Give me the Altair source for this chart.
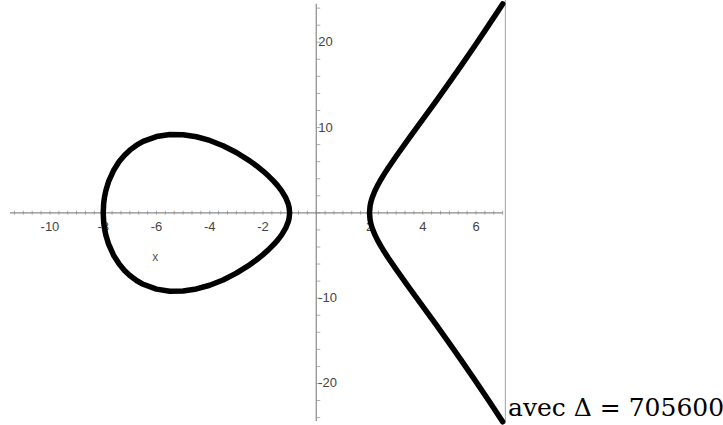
import altair as alt
import numpy as np
import pandas as pd

# Upper half of the bounded oval (y >= 0), read along x
oval_x = [-8, -7.98, -7.95, -7.9, -7.8, -7.6, -7.4, -7.2, -7, -6.75, -6.5, -6, -5.5, -5,
          -4.5, -4, -3.5, -3, -2.5, -2.25, -2, -1.8, -1.6, -1.45, -1.3, -1.15, -1.05, -1.02, -1]
oval_y = [0, 1.18, 1.859, 2.614, 3.651, 5.034, 6.008, 6.755, 7.348, 7.93, 8.374, 8.944, 9.186, 9.165,
          8.923, 8.485, 7.866, 7.071, 6.093, 5.527, 4.899, 4.341, 3.718, 3.189, 2.575, 1.799, 1.03, 0.649, 0]

# Upper half of the unbounded branch
right_x = [2, 2.02, 2.05, 2.1, 2.2, 2.3, 2.4, 2.55, 2.7, 3, 3.5, 4, 4.5, 5, 5.5, 6, 6.5, 7]
right_y = [0, 0.778, 1.238, 1.769, 2.555, 3.193, 3.761, 4.539, 5.264, 6.633, 8.811, 10.954,
           13.11, 15.297, 17.525, 19.799, 22.122, 24.495]

x_tick_values = [-10, -8, -6, -4, -2, 2, 4, 6]
x_tick_text = ["-10", "-8", "-6", "-4", "-2", "2", "4", "6"]
y_tick_values = [-20, -10, 10, 20]
y_tick_text = ["-20", "-10", "10", "20"]

caption = "avec Δ = 705600"

X_DOM = [-11.5, 7.05]
Y_DOM = [-24.4, 24.6]


def branch(xs, ys, name, closed):
    """Trace a symmetric branch: upper half forward, lower half back."""
    rows = []
    if closed:
        pts = list(zip(xs, ys)) + [(x, -y) for x, y in reversed(list(zip(xs, ys)))][1:]
    else:
        pts = [(x, -y) for x, y in reversed(list(zip(xs, ys)))] + list(zip(xs, ys))[1:]
    for i, (x, y) in enumerate(pts):
        rows.append({"x": x, "y": y, "branch": name, "k": i})
    return rows


curve = pd.DataFrame(branch(oval_x, oval_y, "oval", True) + branch(right_x, right_y, "right", False))

xs = alt.Scale(domain=X_DOM, nice=False, zero=False)
ys = alt.Scale(domain=Y_DOM, nice=False, zero=False)

axis_grey = "#8a8a8a"
label_grey = "#444444"

# Axis lines crossing at the origin
x_axis = alt.Chart(pd.DataFrame({"x": [-11.5], "x2": [7.0], "y": [0]})).mark_rule(
    color=axis_grey, strokeWidth=1.2
).encode(x=alt.X("x:Q", scale=xs, axis=None), x2="x2", y=alt.Y("y:Q", scale=ys, axis=None))

y_axis = alt.Chart(pd.DataFrame({"x": [0], "y": [-24.4], "y2": [24.5]})).mark_rule(
    color=axis_grey, strokeWidth=1.2
).encode(x=alt.X("x:Q", scale=xs, axis=None), y=alt.Y("y:Q", scale=ys, axis=None), y2="y2")

# Minor ticks: every 1/3 on x, every 2 on y
x_minor = pd.DataFrame({"x": np.arange(-34, 22) / 3.0, "y": 0.0})
y_minor = pd.DataFrame({"x": 0.0, "y": np.arange(-12, 13) * 2.0})

x_ticks = alt.Chart(x_minor).mark_tick(orient="vertical", size=4, thickness=1, color=axis_grey).encode(
    x=alt.X("x:Q", scale=xs, axis=None), y=alt.Y("y:Q", scale=ys, axis=None)
)
y_ticks = alt.Chart(y_minor).mark_tick(orient="horizontal", size=4, thickness=1, color=axis_grey, xOffset=2).encode(
    x=alt.X("x:Q", scale=xs, axis=None), y=alt.Y("y:Q", scale=ys, axis=None)
)

x_labels = alt.Chart(pd.DataFrame({"x": x_tick_values, "y": 0.0, "t": x_tick_text})).mark_text(
    font="Liberation Sans", fontSize=13, color=label_grey, baseline="top", dy=8
).encode(x=alt.X("x:Q", scale=xs, axis=None), y=alt.Y("y:Q", scale=ys, axis=None), text="t:N")

y_labels = alt.Chart(pd.DataFrame({"x": 0.0, "y": y_tick_values, "t": y_tick_text})).mark_text(
    font="Liberation Sans", fontSize=13, color=label_grey, align="left", baseline="middle", dx=2
).encode(x=alt.X("x:Q", scale=xs, axis=None), y=alt.Y("y:Q", scale=ys, axis=None), text="t:N")

x_name = alt.Chart(pd.DataFrame({"x": [-6.05], "y": [-5.2], "t": ["x"]})).mark_text(
    font="Liberation Sans", fontSize=12, color="#555555"
).encode(x=alt.X("x:Q", scale=xs, axis=None), y=alt.Y("y:Q", scale=ys, axis=None), text="t:N")

# Thin frame line on the right edge of the plot
frame = alt.Chart(pd.DataFrame({"x": [7.1]})).mark_rule(color="#a0a0a0", strokeWidth=1).encode(
    x=alt.X("x:Q", scale=xs, axis=None), y=alt.value(-3), y2=alt.value(419)
)

lines = alt.Chart(curve).mark_line(
    color="black", strokeWidth=5.5, strokeCap="round", strokeJoin="round"
).encode(
    x=alt.X("x:Q", scale=xs, axis=None),
    y=alt.Y("y:Q", scale=ys, axis=None),
    detail="branch:N",
    order="k:Q",
)

note = alt.Chart(pd.DataFrame({"t": [caption]})).mark_text(
    font="DejaVu Serif", fontSize=25, color="black", align="left", baseline="alphabetic"
).encode(x=alt.value(498), y=alt.value(413), text="t:N")

chart = alt.layer(
    x_axis, y_axis, x_ticks, y_ticks, x_labels, y_labels, x_name, frame, lines, note
).properties(
    width=494, height=418,
    autosize=alt.AutoSizeParams(type="none"),
    padding={"left": 10, "top": 3, "right": 219, "bottom": 4},
    background="white",
).configure_view(strokeWidth=0)

chart.save("out.html", embed_options={"renderer": "svg", "actions": False})
